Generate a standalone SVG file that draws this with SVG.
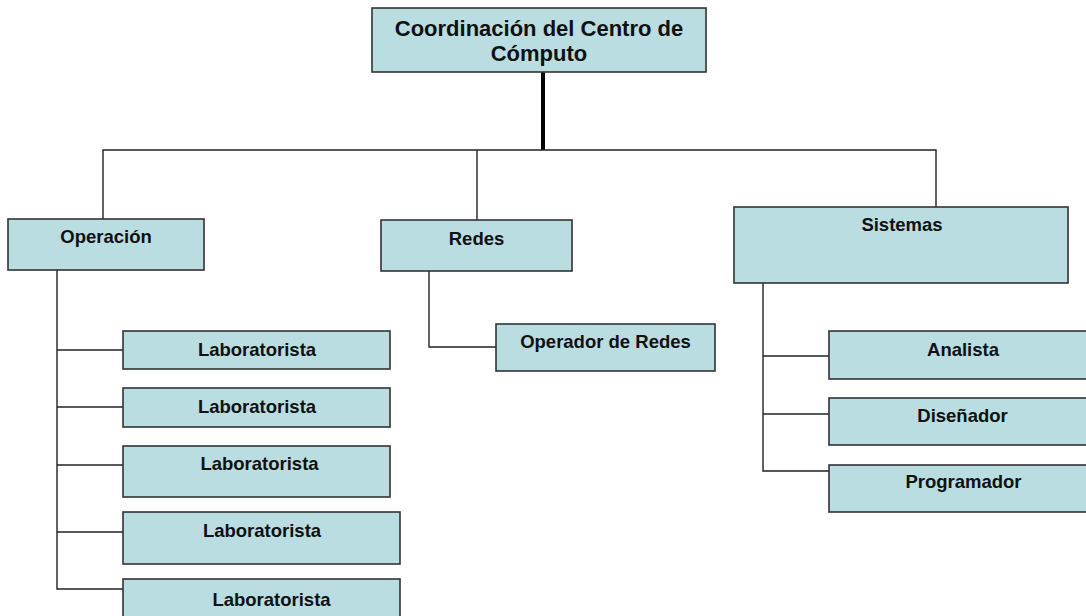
<svg xmlns="http://www.w3.org/2000/svg" width="1086" height="616" viewBox="0 0 1086 616">
<style>
.box{fill:#BADDE1;stroke:#333333;stroke-width:1.6}
.t{font-family:"Liberation Sans",Arial,sans-serif;font-weight:bold;font-size:18.5px;fill:#111111;text-anchor:middle}
.tt{font-family:"Liberation Sans",Arial,sans-serif;font-weight:bold;font-size:22px;fill:#111111;text-anchor:middle}
.c{fill:none;stroke:#222222;stroke-width:1.4}
</style>
<rect width="1086" height="616" fill="#ffffff"/>
<g id="connectors">
<line x1="543" y1="72" x2="543" y2="150" stroke="#000" stroke-width="4"/>
<polyline class="c" points="103,219 103,150 936,150 936,207"/>
<line class="c" x1="477" y1="150" x2="477" y2="220"/>
<polyline class="c" points="57,270 57,589 123,589"/>
<line class="c" x1="57" y1="350" x2="123" y2="350"/>
<line class="c" x1="57" y1="407" x2="123" y2="407"/>
<line class="c" x1="57" y1="465" x2="123" y2="465"/>
<line class="c" x1="57" y1="532" x2="123" y2="532"/>
<polyline class="c" points="429,271 429,347 496,347"/>
<polyline class="c" points="763,283 763,471 829,471"/>
<line class="c" x1="763" y1="356" x2="829" y2="356"/>
<line class="c" x1="763" y1="414" x2="829" y2="414"/>
</g>
<g id="coordinacion">
<rect class="box" x="372" y="8" width="334" height="64"/>
<text class="tt" x="539" y="36">Coordinación del Centro de</text>
<text class="tt" x="539" y="61">Cómputo</text>
</g>
<g id="operacion">
<rect class="box" x="8" y="219" width="196" height="51"/>
<text class="t" x="106" y="243">Operación</text>
</g>
<g id="redes">
<rect class="box" x="381" y="220" width="191" height="51"/>
<text class="t" x="476.5" y="245">Redes</text>
</g>
<g id="sistemas">
<rect class="box" x="734" y="207" width="334" height="76"/>
<text class="t" x="902" y="231">Sistemas</text>
</g>
<g id="lab1">
<rect class="box" x="123" y="331" width="267" height="38"/>
<text class="t" x="257" y="356">Laboratorista</text>
</g>
<g id="lab2">
<rect class="box" x="123" y="388" width="267" height="39"/>
<text class="t" x="257" y="413">Laboratorista</text>
</g>
<g id="lab3">
<rect class="box" x="123" y="446" width="267" height="51"/>
<text class="t" x="259.5" y="470">Laboratorista</text>
</g>
<g id="lab4">
<rect class="box" x="123" y="512" width="277" height="52"/>
<text class="t" x="262" y="537">Laboratorista</text>
</g>
<g id="lab5">
<rect class="box" x="123" y="579" width="277" height="50"/>
<text class="t" x="271.5" y="606">Laboratorista</text>
</g>
<g id="operador-redes">
<rect class="box" x="496" y="324" width="219" height="47"/>
<text class="t" x="605.5" y="348">Operador de Redes</text>
</g>
<g id="analista">
<rect class="box" x="829" y="331" width="270" height="48"/>
<text class="t" x="963" y="356">Analista</text>
</g>
<g id="disenador">
<rect class="box" x="829" y="398" width="270" height="47"/>
<text class="t" x="962.5" y="422">Diseñador</text>
</g>
<g id="programador">
<rect class="box" x="829" y="465" width="270" height="47"/>
<text class="t" x="963.5" y="488">Programador</text>
</g>
</svg>
